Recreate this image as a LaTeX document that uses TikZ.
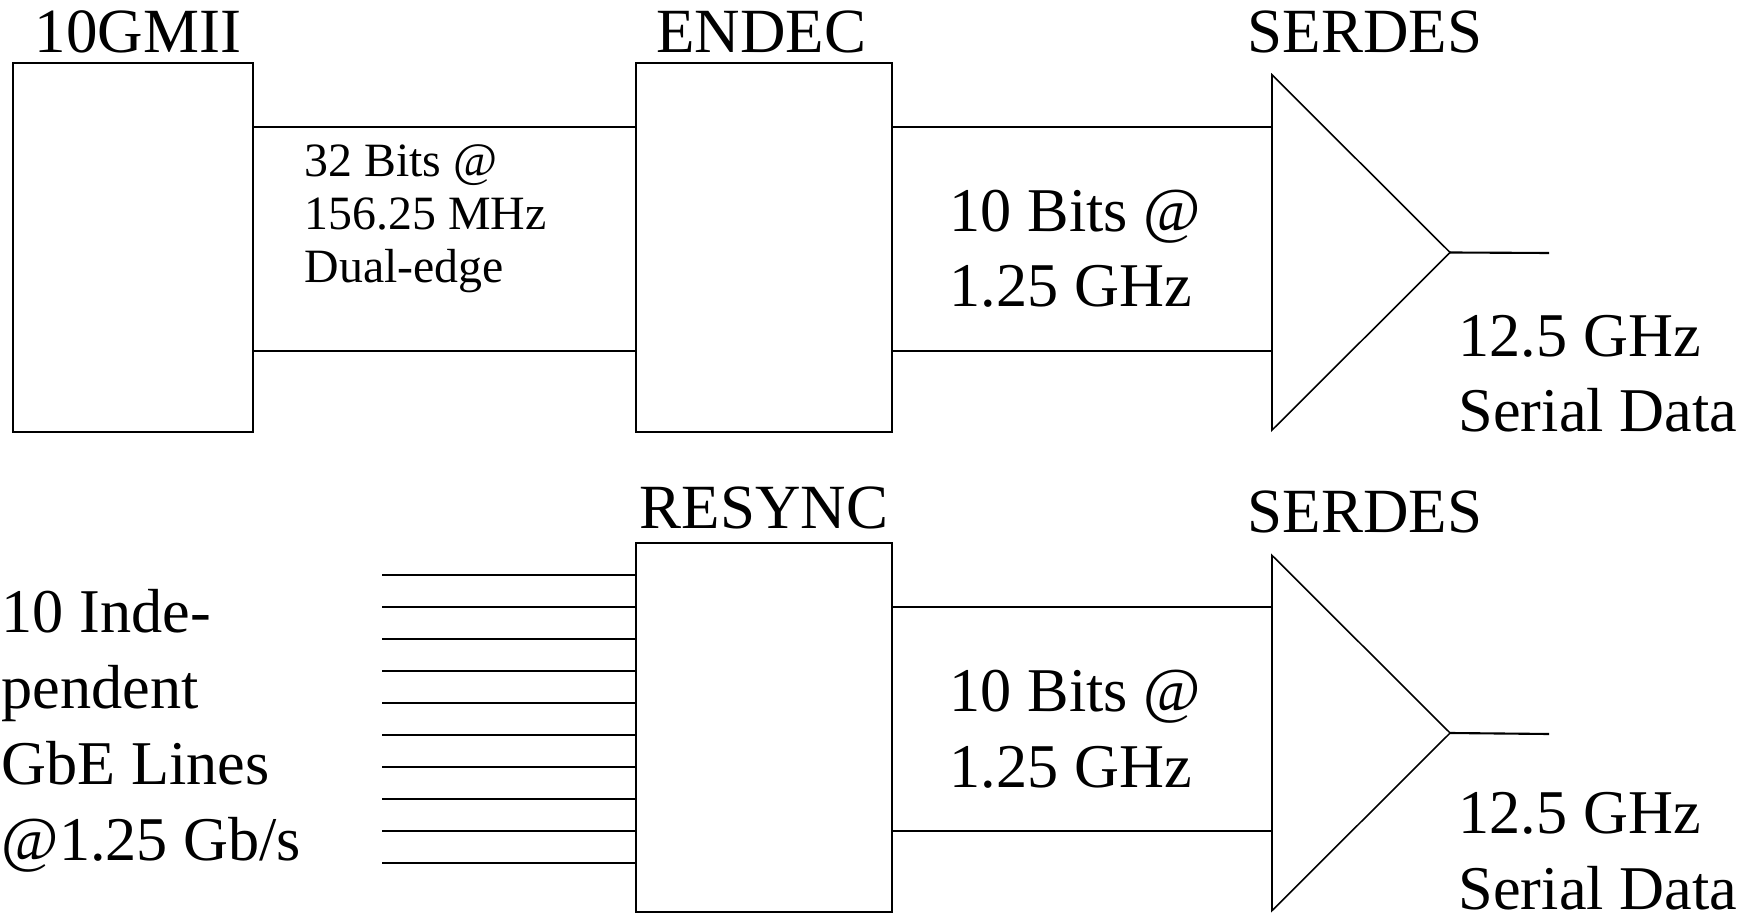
\documentclass[tikz,border=0pt]{standalone}
\usepackage{fontspec}
\setmainfont{Liberation Serif}
\usetikzlibrary{shapes.geometric, positioning}

\begin{document}
\begin{tikzpicture}[
x=0.01cm, y=-0.01cm,
block/.style={
    rectangle,
    draw=black,
    line width=0.6pt,
    minimum width=2.56cm,
    minimum height=3.69cm,
    inner sep=0pt,
    outer sep=0pt,
    anchor=north west
},
serdes/.style={
    isosceles triangle,
    isosceles triangle stretches,
    draw=black,
    line width=0.45pt,
    minimum width=3.55cm,
    minimum height=1.78cm,
    inner sep=0pt,
    outer sep=0pt,
    anchor=lower side
},
title/.style={font=\fontsize{17.9}{21.6}\selectfont, inner sep=0pt},
biglabel/.style={font=\fontsize{17.7}{21.6}\selectfont, align=left, inner sep=0pt, anchor=base west},
smalllabel/.style={font=\fontsize{13.6}{15.1}\selectfont, align=left, inner sep=0pt, anchor=base west},
wire/.style={line width=0.6pt}
]
\useasboundingbox (0,0) rectangle (1758,919);

\node (gmii) [block, minimum width=2.40cm] at (13,63) {};
\node (endec) [block] at (636,63) {};
\node (resync) [block] at (636,543) {};
\node (ser1) [serdes] at (1272,252.5) {};
\node (ser2) [serdes] at (1272,733) {};

\node (gmiilbl) [title, above=0.09cm of gmii, xshift=0.05cm] {10GMII};
\node (endeclbl) [title, above=0.09cm of endec, xshift=-0.03cm] {ENDEC};
\node (resynclbl) [title, above=0.13cm of resync] {RESYNC};
\node (ser1lbl) [title, anchor=base] at (1365,53) {SERDES};
\node (ser2lbl) [title, anchor=base] at (1365,533) {SERDES};

\node (bus1txt) [smalllabel] at (304,283) {32 Bits @\\156.25 MHz\\Dual-edge};
\node (bus2txt) [biglabel] at (949,307) {10 Bits @\\1.25 GHz};
\node (bus3txt) [biglabel] at (949,787) {10 Bits @\\1.25 GHz};
\node (out1txt) [biglabel] at (1458,432) {12.5 GHz\\Serial Data};
\node (out2txt) [biglabel] at (1458,909) {12.5 GHz\\Serial Data};
\node (gbetxt) [biglabel] at (1,860) {10 Inde-\\pendent\\GbE Lines\\@1.25 Gb/s};

\coordinate (bus1top) at ([yshift=1.205cm]gmii.east);
\coordinate (bus1bot) at ([yshift=-1.035cm]gmii.east);
\coordinate (bus2top) at ([yshift=1.205cm]endec.east);
\coordinate (bus2bot) at ([yshift=-1.035cm]endec.east);
\coordinate (bus3top) at ([yshift=1.205cm]resync.east);
\coordinate (bus3bot) at ([yshift=-1.035cm]resync.east);
\coordinate (out1) at (1549,253);
\coordinate (out2) at (1549,734);

\draw [wire] (bus1top) -- (bus1top -| endec.west);
\draw [wire] (bus1bot) -- (bus1bot -| endec.west);
\draw [wire] (bus2top) -- (bus2top -| ser1.lower side);
\draw [wire] (bus2bot) -- (bus2bot -| ser1.lower side);
\draw [wire] (bus3top) -- (bus3top -| ser2.lower side);
\draw [wire] (bus3bot) -- (bus3bot -| ser2.lower side);
\draw [wire] (ser1.apex) -- (out1);
\draw [wire] (ser2.apex) -- (out2);

\foreach \k in {0,...,9} {
    \coordinate (gbe\k) at (382,{575+32*\k});
    \draw [wire] (gbe\k) -- (gbe\k -| resync.west);
}

\end{tikzpicture}
\end{document}
